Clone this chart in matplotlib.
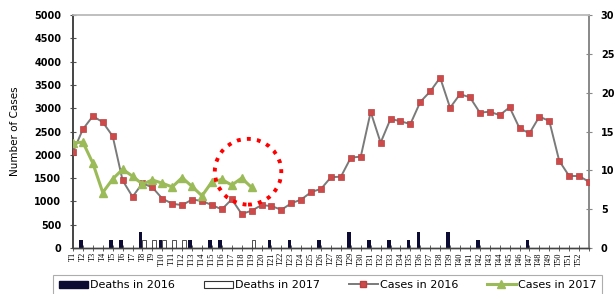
#!/usr/bin/env python3
"""Weekly cases (2016 vs 2017) with deaths on a secondary axis."""

import numpy as np
import matplotlib
matplotlib.use("Agg")
import matplotlib.pyplot as plt
from matplotlib.patches import Ellipse, Patch
from matplotlib.lines import Line2D

# Week labels (2016 series runs one point past T52)
weeks = [f"T{i}" for i in range(1, 53)] + [""]

cases_2016 = [2060, 2550, 2830, 2700, 2400, 1450, 1100, 1390, 1300, 1060,
              950, 920, 1040, 1010, 920, 830, 1045, 730, 800, 920,
              900, 820, 960, 1040, 1200, 1270, 1520, 1530, 1940, 1960,
              2920, 2260, 2770, 2720, 2660, 3135, 3360, 3655, 3010, 3300,
              3235, 2905, 2925, 2850, 3020, 2570, 2460, 2820, 2725, 1870,
              1545, 1545, 1420]

cases_2017 = [2260, 2270, 1820, 1190, 1480, 1690, 1540, 1370, 1460, 1390,
              1310, 1510, 1320, 1120, 1420, 1470, 1350, 1500, 1300]

deaths_2016 = [0, 1, 0, 0, 1, 1, 0, 2, 0, 1,
               0, 0, 1, 0, 1, 1, 0, 0, 0, 0,
               1, 0, 1, 0, 0, 1, 0, 0, 2, 0,
               1, 0, 1, 0, 1, 2, 0, 0, 2, 0,
               0, 1, 0, 0, 0, 0, 1, 0, 0, 0,
               0, 0, 0]

deaths_2017 = [0, 0, 0, 0, 0, 0, 0, 1, 1, 1,
               1, 1, 0, 0, 0, 0, 0, 0, 1]

RED = "#cd4a4a"
GREEN = "#9bbb59"
NAVY = "#0b0b33"

fig = plt.figure(figsize=(6.16, 2.94), dpi=100)
ax = fig.add_axes([73 / 616, 1 - 248 / 294, 516 / 616, 233 / 294])
ax2 = ax.twinx()

x16 = np.arange(len(cases_2016))
x17 = np.arange(len(cases_2017))
bw = 0.38

# deaths (right axis)
ax2.bar(x16 - bw / 2, deaths_2016, width=bw, color=NAVY, zorder=2)
ax2.bar(x17 + bw / 2, deaths_2017, width=bw, color="white",
        edgecolor="#333333", linewidth=0.6, zorder=2)
ax2.set_ylim(0, 30)
ax2.set_yticks(range(0, 31, 5))

# cases (left axis) - draw on top
ax.set_zorder(ax2.get_zorder() + 1)
ax.patch.set_visible(False)
ax.plot(x16, cases_2016, color="#7a7a7a", lw=1.4, marker="s", ms=5,
        mfc=RED, mec="#b94040", mew=0.5, zorder=3)
ax.plot(x17, cases_2017, color=GREEN, lw=2.2, marker="^", ms=6,
        mfc=GREEN, mec=GREEN, zorder=4)

ax.set_ylim(0, 5000)
ax.set_yticks(range(0, 5001, 500))
ax.set_xlim(0, len(weeks) - 1)
ax.set_xticks(np.arange(len(weeks)))
ax.set_xticklabels(weeks, rotation=90, fontsize=6, family="Liberation Serif")
ax.set_ylabel("Number of Cases", fontsize=7.5, labelpad=10)

for t in ax.get_yticklabels() + ax2.get_yticklabels():
    t.set_fontweight("bold")
    t.set_fontsize(7)
ax.tick_params(axis="y", direction="inout", length=5, width=0.8,
               color="#555555", pad=6)
ax2.tick_params(axis="y", direction="inout", length=5, width=0.8,
                color="#888888", pad=6)
ax.tick_params(axis="x", direction="inout", length=4, width=0.6,
               color="#444444", pad=1)

for a in (ax, ax2):
    a.spines["top"].set_color("#bfbfbf")
    a.spines["top"].set_linewidth(1.2)
    a.spines["left"].set_color("#444444")
    a.spines["left"].set_linewidth(1.2)
    a.spines["right"].set_color("#888888")
    a.spines["right"].set_linewidth(1.2)
    a.spines["bottom"].set_color("#444444")
    a.spines["bottom"].set_linewidth(1.0)

# red dotted circle annotation
circ = Ellipse((17.64, 1637), width=6.7, height=1410, fill=False,
               edgecolor="red", linestyle=(0, (1, 1.6)), linewidth=2.8,
               zorder=6)
ax.add_patch(circ)

handles = [
    Patch(facecolor=NAVY, edgecolor=NAVY),
    Patch(facecolor="white", edgecolor="#333333", linewidth=0.8),
    Line2D([], [], color="#7a7a7a", lw=1.4, marker="s", ms=5,
           mfc=RED, mec="#b94040"),
    Line2D([], [], color=GREEN, lw=2.2, marker="^", ms=6,
           mfc=GREEN, mec=GREEN),
]
labels = ["Deaths in 2016", "Deaths in 2017", "Cases in 2016", "Cases in 2017"]
leg = fig.legend(handles, labels, loc="center", ncol=4,
                 bbox_to_anchor=(0.532, 0.03), fontsize=8,
                 handlelength=2.6, handleheight=0.6, handletextpad=0.2,
                 columnspacing=2.6, fancybox=False, borderpad=0.5)
leg.get_frame().set_edgecolor("#999999")
leg.get_frame().set_linewidth(0.8)

fig.savefig("out.png", dpi=100)
